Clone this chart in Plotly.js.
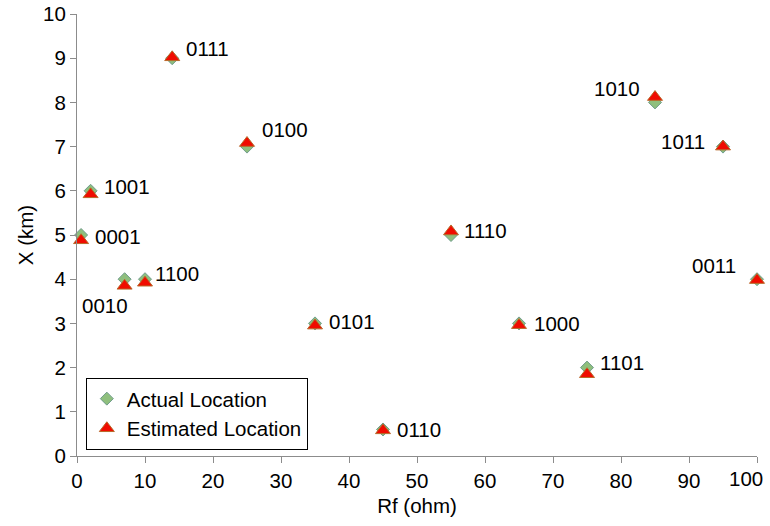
<!DOCTYPE html>
<html>
<head>
<meta charset="utf-8">
<script src="https://cdn.plot.ly/plotly-3.0.1.min.js"></script>
<style>html,body{margin:0;padding:0;background:#fff;}#chart{width:770px;height:526px;}</style>
</head>
<body>
<div id="chart"></div>
<script>
// ---- data ----
const labels   = ['0111','0100','1001','0001','0010','1100','0101','0110','1110','1000','1101','1010','1011','0011'];
const actualX  = [14, 25, 2, 0.6, 7, 10, 35, 45, 55, 65, 75, 85, 95, 100];
const actualY  = [9, 7, 6, 5, 4, 4, 3, 0.6, 5, 3, 2, 8, 7, 4];
const estX     = [14, 25, 2, 0.6, 7, 10, 35, 45, 55, 65, 75, 85, 95, 100];
const estY     = [9.02, 7.08, 5.92, 4.88, 3.85, 3.92, 2.95, 0.58, 5.08, 2.96, 1.85, 8.12, 7.0, 3.98];
const xTicks   = [0, 10, 20, 30, 40, 50, 60, 70, 80, 90, 100];
const yTicks   = [0, 1, 2, 3, 4, 5, 6, 7, 8, 9, 10];

// ---- label placement (styling only) ----
const labelPlace = [
  ['left', 12, 10], ['left', 13, 17], ['left', 11, 4], ['left', 12, -1],
  ['right', 5, -26], ['left', 8, 6], ['left', 12, 2], ['left', 12, 0],
  ['left', 11, 5], ['left', 13, 0], ['left', 11, 5], ['right', -13, 14],
  ['right', -16, 5], ['right', -19, 14]
];

const FONT = '"Liberation Sans", Arial, sans-serif';
const FS = 20.5;
const axisColor = '#8c8c8c';

const traces = [
  {
    x: actualX, y: actualY, type: 'scatter', mode: 'markers', name: 'Actual Location',
    marker: {symbol: 'diamond', size: 10, color: '#8fbf7d', line: {color: '#6f9c8c', width: 1}},
    legendgroup: 'a', cliponaxis: false
  },
  {
    x: estX, y: estY, type: 'scatter', mode: 'markers', name: 'Estimated Location',
    marker: {symbol: 'triangle-up', size: 13, color: '#f00c00', line: {color: '#b86a2a', width: 1}},
    legendgroup: 'b', cliponaxis: false
  }
];

const annotations = labels.map((t, i) => ({
  x: actualX[i], y: actualY[i], xref: 'x', yref: 'y', text: t, showarrow: false,
  xanchor: labelPlace[i][0], yanchor: 'middle',
  xshift: labelPlace[i][1], yshift: labelPlace[i][2],
  font: {family: FONT, size: FS, color: '#000'}
}));

// last x tick label is kept inside the page (right-aligned at the axis end)
const lastTick = xTicks[xTicks.length - 1];
annotations.push({
  x: lastTick, y: 0, xref: 'x', yref: 'paper', text: String(lastTick), showarrow: false,
  xanchor: 'right', yanchor: 'top', xshift: 8, yshift: -9,
  font: {family: FONT, size: FS, color: '#000'}
});

const layout = {
  width: 770, height: 526,
  margin: {l: 77, r: 13, t: 14, b: 70},
  paper_bgcolor: '#fff', plot_bgcolor: '#fff',
  font: {family: FONT, size: FS, color: '#000'},
  showlegend: true,
  legend: {
    x: 0.013, y: 0.014, xanchor: 'left', yanchor: 'bottom',
    bgcolor: '#fff', bordercolor: '#000', borderwidth: 1,
    font: {family: FONT, size: FS, color: '#000'},
    traceorder: 'grouped', tracegroupgap: 0
  },
  xaxis: {
    range: [0, 100], tickvals: xTicks,
    ticktext: xTicks.map((v, i) => i === xTicks.length - 1 ? '' : String(v)),
    showgrid: false, zeroline: false, showline: true, linecolor: axisColor, linewidth: 1,
    ticks: 'outside', ticklen: 6, tickcolor: axisColor,
    tickfont: {family: FONT, size: FS, color: '#000'},
    title: {text: 'Rf (ohm)', font: {family: FONT, size: FS, color: '#000'}, standoff: 8},
    fixedrange: true
  },
  yaxis: {
    range: [0, 10], tickvals: yTicks, ticktext: yTicks.map(String),
    showgrid: false, zeroline: false, showline: true, linecolor: axisColor, linewidth: 1,
    ticks: 'outside', ticklen: 6, tickcolor: axisColor, ticklabeloverflow: 'allow',
    tickfont: {family: FONT, size: FS, color: '#000'},
    title: {text: 'X (km)', font: {family: FONT, size: FS, color: '#000'}, standoff: 3},
    fixedrange: true
  },
  annotations: annotations
};

Plotly.newPlot('chart', traces, layout, {displayModeBar: false, staticPlot: true});
</script>
</body>
</html>
